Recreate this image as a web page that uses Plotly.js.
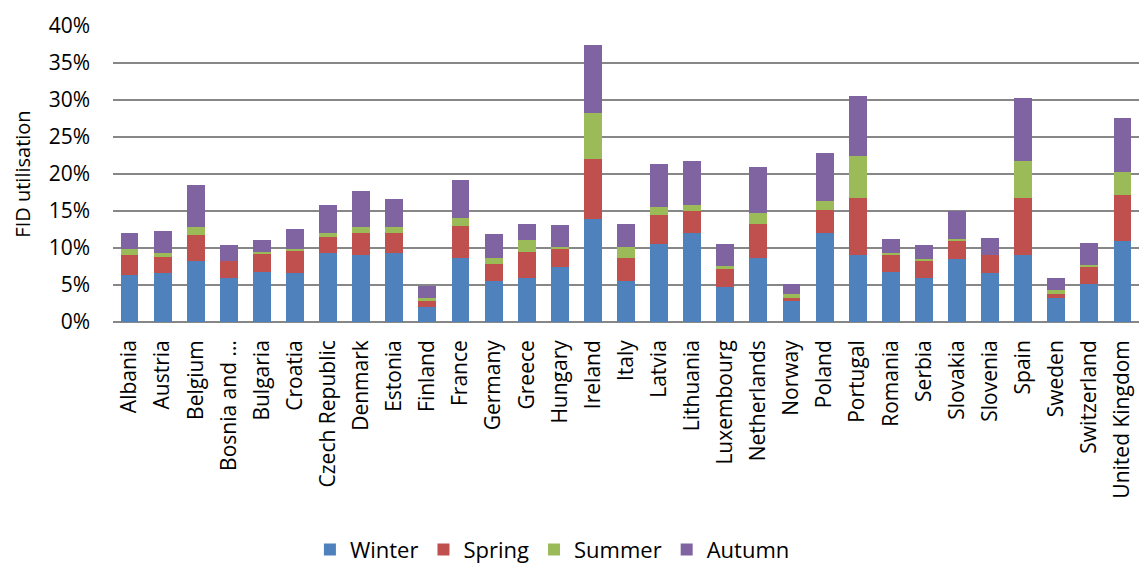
<!DOCTYPE html>
<html>
<head>
<meta charset="utf-8">
<script src="https://cdn.plot.ly/plotly-3.0.1.min.js"></script>
<style>html,body{margin:0;padding:0;background:#fff;}#chart{width:1139px;height:568px;}</style>
</head>
<body>
<div id="chart"></div>
<script>
var countries = ["Albania","Austria","Belgium","Bosnia and …","Bulgaria","Croatia","Czech Republic","Denmark","Estonia","Finland","France","Germany","Greece","Hungary","Ireland","Italy","Latvia","Lithuania","Luxembourg","Netherlands","Norway","Poland","Portugal","Romania","Serbia","Slovakia","Slovenia","Spain","Sweden","Switzerland","United Kingdom"];
var winter = [6.3,6.6,8.2,6.0,6.8,6.6,9.3,9.0,9.3,2.0,8.7,5.5,6.0,7.4,13.9,5.5,10.6,12.0,4.7,8.7,2.8,12.0,9.0,6.8,6.0,8.5,6.6,9.0,3.3,5.2,10.9];
var spring = [2.7,2.2,3.5,2.2,2.4,3.0,2.2,3.0,2.7,0.8,4.3,2.4,3.5,2.4,8.1,3.2,3.8,3.0,2.4,4.6,0.5,3.2,7.8,2.2,2.2,2.4,2.4,7.8,0.5,2.2,6.2];
var summer = [0.8,0.5,1.1,0.0,0.3,0.3,0.5,0.8,0.8,0.5,1.1,0.8,1.6,0.3,6.2,1.4,1.1,0.8,0.5,1.4,0.5,1.1,5.7,0.3,0.3,0.3,0.0,4.9,0.5,0.3,3.2];
var autumn = [2.2,3.0,5.7,2.2,1.6,2.7,3.8,4.9,3.8,1.6,5.1,3.2,2.2,3.0,9.2,3.2,5.9,5.9,3.0,6.2,1.4,6.5,8.1,1.9,1.9,3.8,2.4,8.6,1.6,3.0,7.3];
var seriesNames = ["Winter","Spring","Summer","Autumn"];
var seriesColors = ["#4F81BD","#C0504D","#9BBB59","#8064A2"];
var seriesValues = [winter, spring, summer, autumn];

var FONT = "Open Sans, DejaVu Sans, sans-serif";
var traces = seriesValues.map(function(vals, i){
  return {
    type: "bar",
    name: seriesNames[i],
    x: countries,
    y: vals.map(function(v){ return v/100; }),
    marker: {color: seriesColors[i], line: {width: 0}},
    hoverinfo: "x+y+name"
  };
});

var layout = {
  width: 1139, height: 568,
  margin: {l: 113, r: 0, t: 26, b: 246, pad: 0},
  paper_bgcolor: "#ffffff", plot_bgcolor: "#ffffff",
  barmode: "stack",
  bargap: 0.46,
  font: {family: FONT, color: "#000000", size: 21},
  xaxis: {
    type: "category",
    tickangle: -90,
    tickfont: {family: FONT, size: 21, color: "#000000"},
    showgrid: false, showline: false, ticks: "",
    ticklabelstandoff: 13,
    automargin: false, fixedrange: true
  },
  yaxis: {
    range: [0, 0.4],
    dtick: 0.05,
    tickformat: ".0%",
    tickfont: {family: FONT, size: 21, color: "#000000"},
    showgrid: true, gridcolor: "#878787", gridwidth: 2,
    zeroline: true, zerolinecolor: "#878787", zerolinewidth: 2,
    showline: false, ticks: "",
    ticklabelstandoff: 22,
    title: {text: "FID utilisation", font: {family: FONT, size: 20, color: "#000000"}, standoff: 12},
    automargin: false, fixedrange: true
  },
  showlegend: true,
  legend: {
    orientation: "h",
    xref: "container", yref: "container",
    x: 0.485, xanchor: "center",
    y: 0.032, yanchor: "middle",
    font: {family: FONT, size: 22, color: "#000000"},
    traceorder: "normal",
    itemwidth: 30,
    bgcolor: "rgba(0,0,0,0)"
  }
};

Plotly.newPlot("chart", traces, layout, {displayModeBar: false, staticPlot: true});
</script>
</body>
</html>
